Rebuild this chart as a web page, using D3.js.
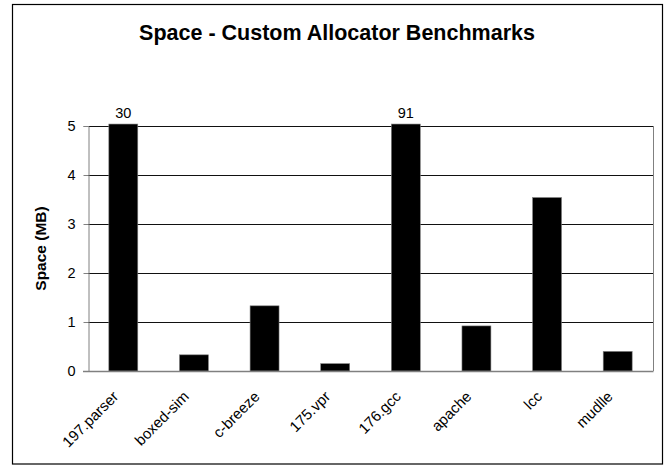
<!DOCTYPE html>
<html>
<head>
<meta charset="utf-8">
<script src="https://cdn.jsdelivr.net/npm/d3@7"></script>
<style>
  body { margin: 0; background: #fff; }
  svg { display: block; font-family: "Liberation Sans", Arial, sans-serif; }
</style>
</head>
<body>
<svg id="chart" width="667" height="466"></svg>
<script>
const categories = ["197.parser", "boxed-sim", "c-breeze", "175.vpr", "176.gcc", "apache", "lcc", "mudlle"];
const spaceMB = [30, 0.33, 1.33, 0.15, 91, 0.92, 3.54, 0.40];
const overflowLabels = ["30", "", "", "", "91", "", "", ""];
const yTicks = [0, 1, 2, 3, 4, 5];
const titleText = "Space - Custom Allocator Benchmarks";
const yLabelText = "Space (MB)";

const svg = d3.select("#chart");
const plot = { left: 88, right: 653, top: 126, bottom: 371 };
const yMax = 5;
const FONT = "Liberation Sans, Arial, sans-serif";

svg.append("rect").attr("x", 12.5).attr("y", 4.5).attr("width", 650).attr("height", 459.5)
  .attr("fill", "#fff").attr("stroke", "#000").attr("stroke-width", 1.2);

const x = d3.scaleBand().domain(categories).range([plot.left, plot.right]).paddingInner(0.59).paddingOuter(0.295);
const y = d3.scaleLinear().domain([0, yMax]).range([plot.bottom, plot.top]);

// gridlines
svg.append("g").selectAll("line").data(yTicks.filter(d => d > 0)).join("line")
  .attr("x1", plot.left).attr("x2", plot.right)
  .attr("y1", d => Math.round(y(d)) + 0.5).attr("y2", d => Math.round(y(d)) + 0.5)
  .attr("stroke", "#111").attr("stroke-width", 1);

// plot border right
svg.append("line").attr("x1", plot.right + 0.5).attr("x2", plot.right + 0.5)
  .attr("y1", plot.top).attr("y2", plot.bottom).attr("stroke", "#808080");

// bars (clipped slightly above the axis maximum)
svg.append("g").selectAll("rect").data(categories).join("rect")
  .attr("x", d => x(d)).attr("width", x.bandwidth())
  .attr("y", (d, i) => y(Math.min(spaceMB[i], yMax + 0.04)))
  .attr("height", (d, i) => y(0) - y(Math.min(spaceMB[i], yMax + 0.04)))
  .attr("fill", "#000").attr("stroke", "#808080").attr("stroke-width", 0.6);

// overflow labels
svg.append("g").selectAll("text").data(categories).join("text")
  .attr("x", d => x(d) + x.bandwidth() / 2).attr("y", plot.top - 8)
  .attr("text-anchor", "middle").attr("font-size", 14.5).attr("fill", "#000")
  .text((d, i) => overflowLabels[i]);

// y axis
const yAxis = d3.axisLeft(y).tickValues(yTicks).tickFormat(d3.format("d")).tickSize(5).tickPadding(8);
const gy = svg.append("g").attr("transform", `translate(${plot.left + 0.5},0)`).call(yAxis);
gy.select(".domain").attr("stroke", "#808080");
gy.selectAll(".tick line").attr("stroke", "#808080");
gy.selectAll(".tick text").attr("font-size", 14.5).attr("fill", "#000").attr("font-family", FONT);

// x axis
const xAxis = d3.axisBottom(x).tickSize(0).tickPadding(0);
const gx = svg.append("g").attr("transform", `translate(0,${plot.bottom + 0.5})`).call(xAxis);
gx.select(".domain").attr("stroke", "#808080").attr("stroke-width", 1.5).attr("d", `M${plot.left - 5},0H${plot.right + 0.5}`);
gx.selectAll(".tick text")
  .attr("font-size", 15).attr("fill", "#000").attr("font-family", FONT)
  .attr("text-anchor", "end").attr("y", 0).attr("dy", 0)
  .attr("transform", "translate(-4,26) rotate(-45)");

// title
svg.append("text").attr("x", 337).attr("y", 40).attr("text-anchor", "middle")
  .attr("font-size", 21.5).attr("font-weight", "bold").text(titleText);

// y label
svg.append("text").attr("transform", `translate(46,${(plot.top + plot.bottom) / 2}) rotate(-90)`)
  .attr("text-anchor", "middle").attr("font-size", 15.5).attr("font-weight", "bold").text(yLabelText);
</script>
</body>
</html>
